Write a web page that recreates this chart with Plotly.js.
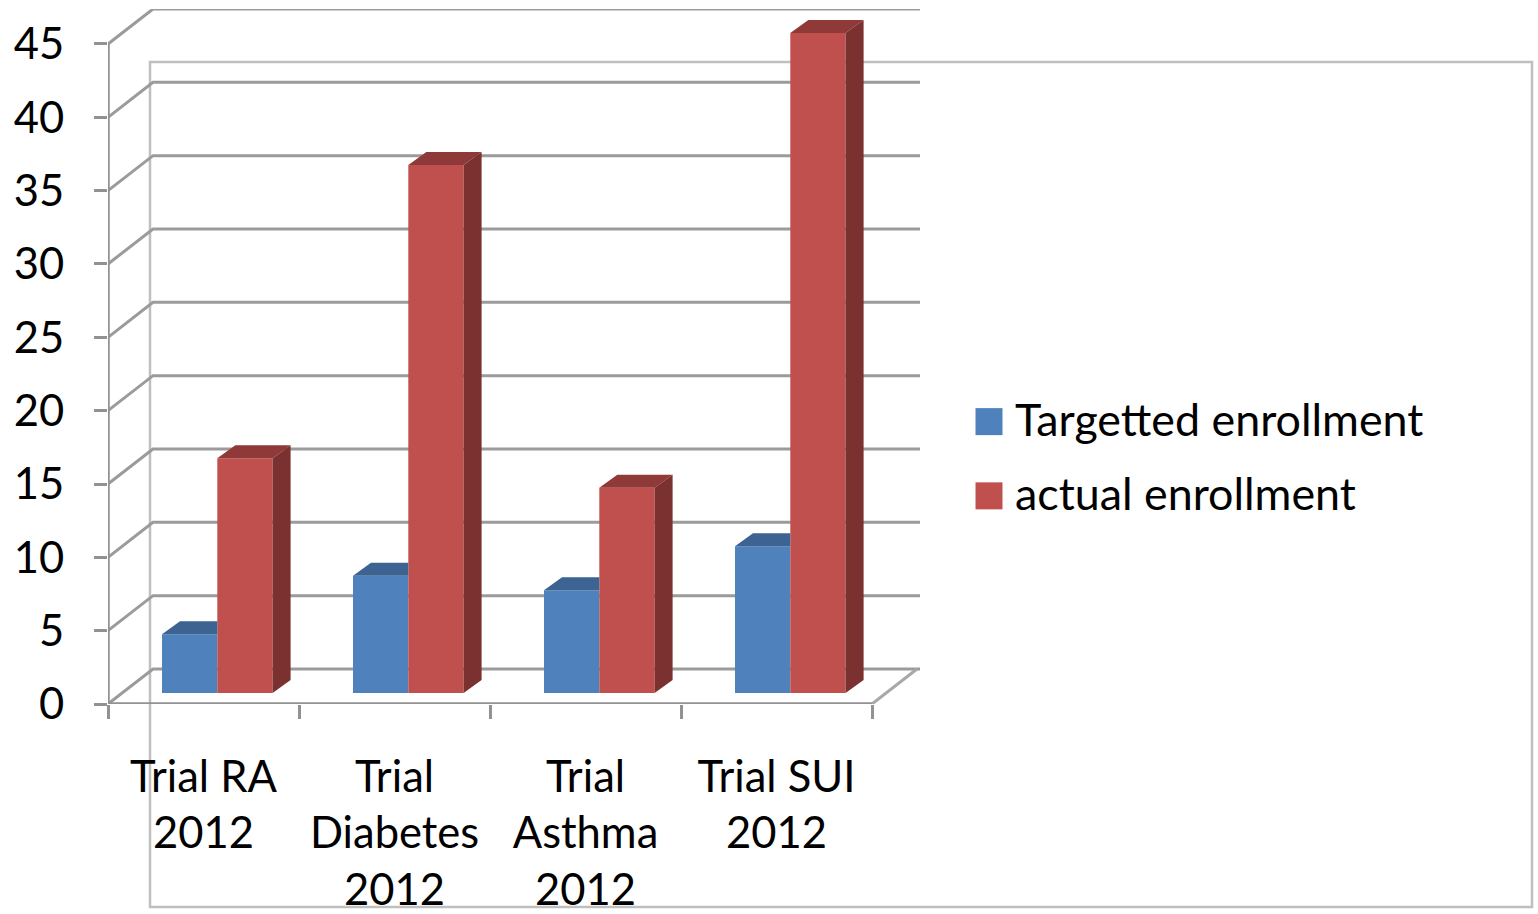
<!DOCTYPE html>
<html><head><meta charset="utf-8">
<script src="https://cdn.plot.ly/plotly-3.0.1.min.js"></script>
<style>html,body{margin:0;padding:0;background:#fff;overflow:hidden}</style>
</head><body><div id="chart" style="width:1538px;height:914px"></div>
<script>
var categories = ["Trial RA<br>2012","Trial<br>Diabetes<br>2012","Trial<br>Asthma<br>2012","Trial SUI<br>2012"];
var targetted = [4, 8, 7, 10];
var actual = [16, 36, 14, 45];
var yTicks = [0,5,10,15,20,25,30,35,40,45];

// perspective constants of the fake 3D chart, in axis units
var W=812, H=695, L=108, T=9;
var pxX=191, pxY=14.667;
var wallDx=45/pxX, wallDy=35/pxY, barDx=18/pxX, barDy=13/pxY, floorLift=11/pxY;
var barW=55.3/pxX, blueOff=(162-108)/pxX;
var xMax=W/pxX, yMax=H/pxY;
var pos=[0,1,2,3];

var FONT='Lato, sans-serif';
var GRID='#9b9b9b', AXIS='#929292';

function blueX(i){return i+blueOff;}
function redX(i){return i+blueOff+barW;}

function topPoly(vals,xf,clip){
  var xs=[],ys=[];
  vals.forEach(function(v,i){
    var x=xf(i), t=v+floorLift;
    var right=x+barW+(clip?0:barDx);
    var rightFront=x+barW;
    xs.push(x,x+barDx,right,rightFront,x,null);
    ys.push(t,t+barDy,t+barDy,t,t,null);
  });
  return {x:xs,y:ys};
}
function sidePoly(vals,xf){
  var xs=[],ys=[];
  vals.forEach(function(v,i){
    var x=xf(i)+barW,t=v+floorLift;
    xs.push(x,x+barDx,x+barDx,x,x,null);
    ys.push(floorLift,floorLift+barDy,t+barDy,t,floorLift,null);
  });
  return {x:xs,y:ys};
}
function face(p,color){
  return {type:'scatter',mode:'none',x:p.x,y:p.y,fill:'toself',fillcolor:color,
          showlegend:false,hoverinfo:'skip',connectgaps:false};
}
var bases=pos.map(function(){return floorLift;});

var traces=[
  {type:'bar',name:'Targetted enrollment',legendgroup:'a',x:pos.map(blueX),y:targetted,base:bases,width:barW,offset:0,
   marker:{color:'#4F81BD',line:{width:0}}},
  {type:'bar',name:'actual enrollment',legendgroup:'b',x:pos.map(redX),y:actual,base:bases,width:barW,offset:0,
   marker:{color:'#C0504D',line:{width:0}}},
  face(topPoly(targetted,blueX,true),'#3C6391'),
  face(topPoly(actual,redX,false),'#8F3A38'),
  face(sidePoly(actual,redX),'#7B312F'),
  {type:'scatter',mode:'lines',x:[0,0],y:[0,45],line:{color:AXIS,width:3.5},showlegend:false,hoverinfo:'skip',cliponaxis:false},
  {type:'scatter',mode:'lines',x:[0,4],y:[0,0],line:{color:AXIS,width:3.5},showlegend:false,hoverinfo:'skip',cliponaxis:false}
];

var shapes=[{type:'rect',xref:'paper',yref:'paper',layer:'below',
  x0:(150-L)/W,x1:(1532-L)/W,y0:1-(907-T)/H,y1:1-(62-T)/H,
  line:{color:'#bfbfbf',width:2.5},fillcolor:'rgba(0,0,0,0)'}];
yTicks.forEach(function(v){
  shapes.push({type:'path',xref:'x',yref:'y',layer:'below',
    path:'M0,'+v+' L'+wallDx+','+(v+wallDy)+' L'+xMax+','+(v+wallDy),
    line:{color:GRID,width:3}});
});
shapes.push({type:'path',xref:'x',yref:'y',layer:'below',
  path:'M4,0 L'+(4+wallDx)+','+wallDy,line:{color:'#a8a8a8',width:3}});

var layout={
  width:1538,height:914,
  margin:{l:L,r:1538-L-W,t:T,b:914-T-H,pad:0},
  paper_bgcolor:'#fff',plot_bgcolor:'rgba(0,0,0,0)',
  font:{family:FONT,color:'#000',size:43.5},
  barmode:'overlay',
  shapes:shapes,
  showlegend:true,
  legend:{x:(975-L)/W,xanchor:'left',y:1-(383-T)/H,yanchor:'top',
    font:{family:FONT,size:44.8,color:'#000'},bgcolor:'rgba(0,0,0,0)',borderwidth:0,
    traceorder:'grouped',tracegroupgap:13,itemclick:false,itemdoubleclick:false},
  xaxis:{range:[0,xMax],tickvals:[0.5,1.5,2.5,3.5],ticktext:categories,ticks:'',showgrid:false,zeroline:false,showline:false,
    tickangle:0,ticklabelstandoff:43,automargin:false,tickfont:{family:FONT,size:43.5,color:'#000'},
    minor:{tickvals:[0,1,2,3,4],ticks:'outside',ticklen:14,tickwidth:3,tickcolor:AXIS,showgrid:false}},
  yaxis:{range:[0,yMax],tickvals:yTicks,ticks:'outside',ticklen:13,tickwidth:3,tickcolor:AXIS,showgrid:false,zeroline:false,showline:false,
    ticklabelstandoff:21,automargin:false,tickfont:{family:FONT,size:43.5,color:'#000'}}
};
Plotly.newPlot('chart',traces,layout,{displayModeBar:false}).then(function(){
  document.querySelectorAll('.legendpoints path').forEach(function(p){
    var b=p.getBBox();
    var sx=27/b.width, sy=27/b.height;
    p.setAttribute('transform','translate(14,3) scale('+sx+','+sy+')');
  });
});
</script></body></html>
